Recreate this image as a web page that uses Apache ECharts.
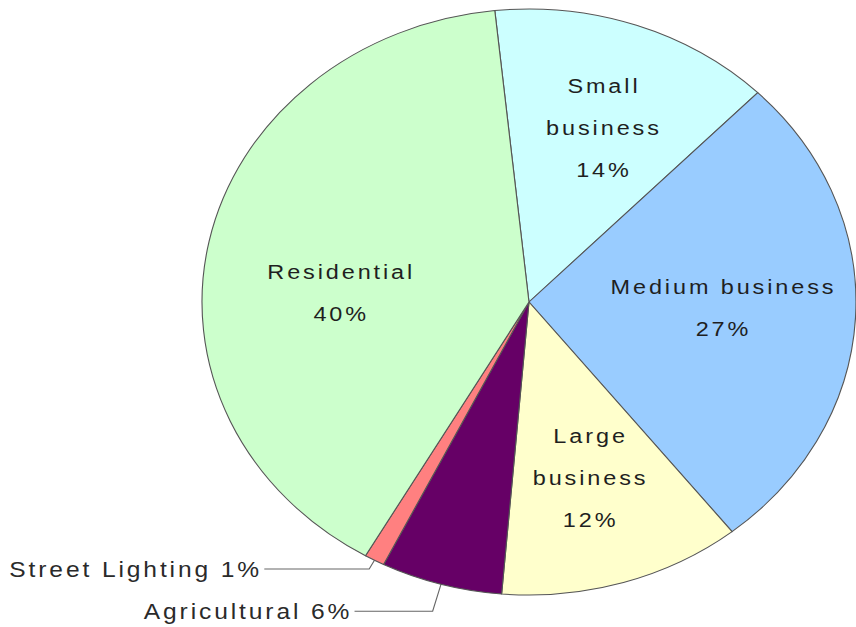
<!DOCTYPE html>
<html>
<head>
<meta charset="utf-8">
<script src="https://cdn.jsdelivr.net/npm/echarts/dist/echarts.min.js"></script>
<style>
  html, body { margin: 0; padding: 0; background: #fff; }
  #wrap { width: 856px; height: 627px; overflow: hidden; position: relative; }
  /* the original picture is stretched sideways, so the chart is too */
  #chart { width: 767px; height: 627px; transform: scaleX(1.116); transform-origin: 0 0; letter-spacing: 2.6px; }
</style>
</head>
<body>
<div id="wrap"><div id="chart"></div></div>
<script>
// clockwise from just left of 12 o'clock
var categories = ['Small business', 'Medium business', 'Large business', 'Agricultural', 'Street Lighting', 'Residential'];
var shares = [14, 27, 12, 6, 1, 40];
var labelTexts = ['Small\nbusiness', 'Medium business', 'Large\nbusiness', 'Agricultural', 'Street Lighting', 'Residential'];
var colors = ['#ccffff', '#99ccff', '#ffffcc', '#660066', '#ff8080', '#ccffcc'];
var outsideIdx = [3, 4];

// nudge of the inside labels away from the mid radius
var labelNudge = [[18, -33], [25, -2], [12, 33], null, null, [-22, 22]];
var outsideLine = { 3: [28, 70], 4: [10, 94] };

var myChart = echarts.init(document.getElementById('chart'), null, { renderer: 'svg' });

var data = categories.map(function (name, i) {
  var item = {
    name: name,
    value: shares[i],
    itemStyle: { color: colors[i] }
  };
  if (outsideIdx.indexOf(i) >= 0) {
    item.label = {
      position: 'outside',
      fontSize: 22,
      color: '#2a2a2a',
      distanceToLabelLine: 2
    };
    item.labelLine = {
      show: true,
      length: outsideLine[i][0],
      length2: outsideLine[i][1],
      lineStyle: { color: '#666', width: 1 }
    };
  }
  return item;
});

var option = {
  animation: false,
  series: [{
    type: 'pie',
    center: [474, 302],
    radius: [0, 293],
    startAngle: 96,
    clockwise: true,
    avoidLabelOverlap: false,
    itemStyle: { borderColor: '#555', borderWidth: 1 },
    label: {
      position: 'inside',
      fontFamily: 'Liberation Sans, Arial, sans-serif',
      fontSize: 21,
      lineHeight: 42,
      color: '#1f1f1f',
      formatter: function (p) {
        if (outsideIdx.indexOf(p.dataIndex) >= 0) {
          return labelTexts[p.dataIndex] + ' ' + p.value + '%';
        }
        return labelTexts[p.dataIndex] + '\n' + p.value + '%';
      }
    },
    labelLine: { show: false },
    labelLayout: function (params) {
      var n = labelNudge[params.dataIndex];
      if (!n) return;
      return { dx: n[0], dy: n[1] };
    },
    emphasis: { disabled: true },
    data: data
  }]
};

myChart.setOption(option);
</script>
</body>
</html>
